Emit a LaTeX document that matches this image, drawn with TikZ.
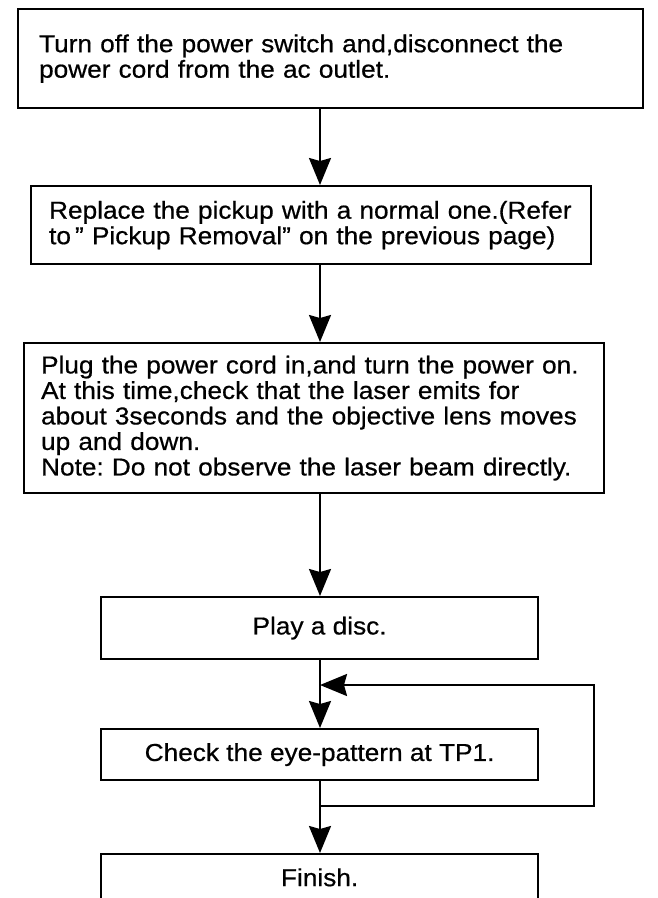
\documentclass[tikz,border=0pt]{standalone}
\usepackage{fontspec}
\setmainfont{Liberation Sans}[FakeStretch=1.07, FakeBold=0.6]
\usetikzlibrary{arrows.meta, positioning}

\tikzset{
  stepbox/.style={draw, line width=2.2pt, anchor=north west, inner ysep=0pt,
    font=\fontsize{24.5}{25.5}\selectfont},
  flow/.style={line width=2.2pt, -{Stealth[length=27pt, width=22pt, inset=3pt]}}
}

\begin{document}
\frenchspacing
\begin{tikzpicture}[x=1pt, y=-1pt]
  \useasboundingbox (0,0) rectangle (658,898);
  \clip (0,0) rectangle (658,898);
  \coordinate (stem) at (320,0);

  \node[stepbox, inner xsep=21pt, text width=583pt, minimum height=99pt, align=left] (off) at (17,8)
    {Turn off the power switch and,disconnect the\\power cord from the ac outlet.};
  \node[stepbox, inner xsep=18pt, text width=524pt, minimum height=78pt, align=left] (pickup) at (30,185)
    {Replace the pickup with a normal one.(Refer\\to\,” Pickup Removal”\ on the previous page)};
  \node[stepbox, inner xsep=17pt, text width=546pt, minimum height=150pt, align=left] (poweron) at (23,342)
    {Plug the power cord in,and turn the power on.\\At this time,check that the laser emits for\\about 3seconds and the objective lens moves\\up and down.\\Note: Do not observe the laser beam directly.};
  \node[stepbox, minimum width=437pt, minimum height=62pt] (play) at (100,596) {Play a disc.};
  \node[stepbox, minimum width=437pt, minimum height=51pt] (check) at (100,728) {Check the eye-pattern at TP1.};
  \node[stepbox, minimum width=437pt, inner ysep=14pt, text height=18pt, text depth=20pt] (finish) at (100,853) {Finish.};

  \coordinate (split) at (320,806);
  \coordinate (ret) at (594,685);

  \draw[flow] (off.south -| stem) -- (pickup.north -| stem);
  \draw[flow] (pickup.south -| stem) -- (poweron.north -| stem);
  \draw[flow] (poweron.south -| stem) -- (play.north -| stem);
  \draw[flow] (play.south -| stem) -- (check.north -| stem);
  \draw[line width=2.2pt] (check.south -| stem) -- (split);
  \draw[flow] (split) -- (finish.north -| stem);
  \draw[flow] (split) -| (ret) -- (ret -| stem);
\end{tikzpicture}
\end{document}
